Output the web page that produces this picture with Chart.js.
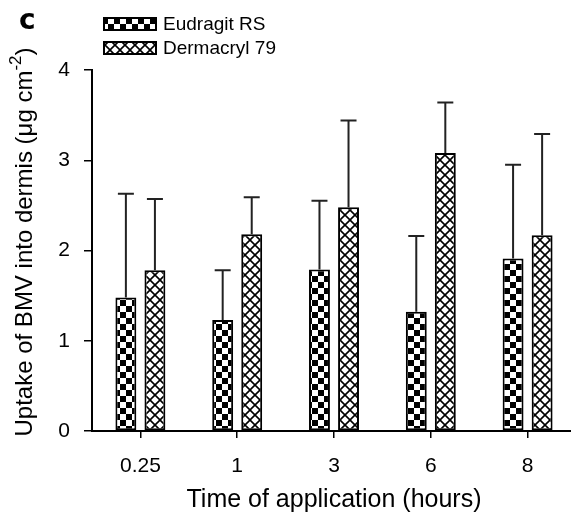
<!DOCTYPE html>
<html lang="en">
<head>
<meta charset="UTF-8">
<title>Uptake of BMV into dermis</title>
<style>
    html, body { margin: 0; padding: 0; background: #fff; overflow: hidden; }
    #wrap { width: 580px; height: 517px; }
    canvas { display: block; }
</style>
<script src="https://cdn.jsdelivr.net/npm/chart.js"></script>
</head>
<body>
<div id="wrap"><canvas id="uptakeChart" width="580" height="517"></canvas></div>

<script>
const times = ["0.25", "1", "3", "6", "8"];
const eudragitMean = [1.48, 1.23, 1.79, 1.32, 1.91];
const eudragitSd = [1.15, 0.55, 0.76, 0.84, 1.04];
const dermacrylMean = [1.78, 2.18, 2.48, 3.08, 2.17];
const dermacrylSd = [0.79, 0.41, 0.96, 0.56, 1.12];
const yTicks = [0, 1, 2, 3, 4];

const FONT = "'Liberation Sans', Arial, sans-serif";
const ctx = document.getElementById("uptakeChart").getContext("2d");

function checkerPattern() {
    const c = document.createElement("canvas");
    c.width = 12; c.height = 12;
    const g = c.getContext("2d");
    g.fillStyle = "#fff";
    g.fillRect(0, 0, 12, 12);
    g.fillStyle = "#000";
    g.fillRect(0, 0, 6, 6);
    g.fillRect(6, 6, 6, 6);
    return ctx.createPattern(c, "repeat");
}

function crossPattern() {
    const s = 10;
    const c = document.createElement("canvas");
    c.width = s; c.height = s;
    const g = c.getContext("2d");
    g.fillStyle = "#fff";
    g.fillRect(0, 0, s, s);
    g.strokeStyle = "#000";
    g.lineWidth = 1.6;
    g.beginPath();
    g.moveTo(-2, -2); g.lineTo(s + 2, s + 2);
    g.moveTo(s + 2, -2); g.lineTo(-2, s + 2);
    g.stroke();
    return ctx.createPattern(c, "repeat");
}

const errors = [eudragitSd, dermacrylSd];

const errorBars = {
    id: "errorBars",
    afterDatasetsDraw(chart) {
        const c = chart.ctx;
        const y = chart.scales.y;
        c.save();
        c.strokeStyle = "#222";
        c.lineWidth = 2;
        chart.data.datasets.forEach((ds, i) => {
            chart.getDatasetMeta(i).data.forEach((bar, j) => {
                const top = y.getPixelForValue(ds.data[j] + errors[i][j]);
                c.beginPath();
                c.moveTo(bar.x, bar.y);
                c.lineTo(bar.x, top);
                c.moveTo(bar.x - 8, top);
                c.lineTo(bar.x + 8, top);
                c.stroke();
            });
        });
        c.restore();
    }
};

const extras = {
    id: "extras",
    afterDraw(chart) {
        const c = chart.ctx;
        c.save();
        // panel letter
        c.fillStyle = "#000";
        c.font = "bold 28px 'DejaVu Sans', sans-serif";
        c.textBaseline = "middle";
        c.fillText("c", 19, 22);

        // legend
        c.font = "19px " + FONT;
        chart.data.datasets.forEach((ds, i) => {
            const yy = 18 + i * 24;
            c.fillStyle = ds.backgroundColor;
            c.fillRect(104, yy, 52, 12);
            c.strokeStyle = "#000";
            c.lineWidth = 2;
            c.strokeRect(104, yy, 52, 12);
            c.fillStyle = "#000";
            c.fillText(ds.label, 163, yy + 7);
        });

        // y title with superscript
        const cx = 25, cy = 242;
        c.translate(cx, cy);
        c.rotate(-Math.PI / 2);
        const big = "24px " + FONT, small = "17px " + FONT;
        const parts = [
            ["Uptake of BMV into dermis (\u03bcg cm", big, 0],
            ["-2", small, -9],
            [")", big, 0]
        ];
        let total = 0;
        parts.forEach(p => { c.font = p[1]; total += c.measureText(p[0]).width; });
        let x = -total / 2;
        c.textBaseline = "middle";
        parts.forEach(p => {
            c.font = p[1];
            c.fillText(p[0], x, p[2]);
            x += c.measureText(p[0]).width;
        });
        c.restore();
    }
};

new Chart(ctx, {
    type: "bar",
    data: {
        labels: times,
        datasets: [
            {
                label: "Eudragit RS",
                data: eudragitMean,
                backgroundColor: checkerPattern(),
                borderColor: "#000",
                borderWidth: 2,
                borderSkipped: false
            },
            {
                label: "Dermacryl 79",
                data: dermacrylMean,
                backgroundColor: crossPattern(),
                borderColor: "#000",
                borderWidth: 2,
                borderSkipped: false
            }
        ]
    },
    options: {
        responsive: false,
        animation: false,
        categoryPercentage: 0.6,
        barPercentage: 0.72,
        layout: { padding: { top: 70, right: 4, left: 0, bottom: 0 } },
        plugins: {
            legend: { display: false },
            tooltip: { enabled: false }
        },
        scales: {
            x: {
                offset: true,
                afterFit: s => { s.height = 86; },
                grid: {
                    offset: false,
                    drawOnChartArea: false,
                    drawTicks: true,
                    tickLength: 7,
                    color: "#000",
                    lineWidth: 1.5
                },
                border: { display: true, color: "#000", width: 2 },
                ticks: { color: "#000", font: { family: FONT, size: 21 }, padding: 16 },
                title: {
                    display: true,
                    text: "Time of application (hours)",
                    color: "#000",
                    font: { family: FONT, size: 25 },
                    padding: { top: 4, bottom: 2 }
                }
            },
            y: {
                min: 0,
                max: 4,
                afterFit: s => { s.width = 92; },
                afterBuildTicks: s => { s.ticks = yTicks.map(v => ({ value: v })); },
                grid: {
                    drawOnChartArea: false,
                    drawTicks: true,
                    tickLength: 8,
                    color: "#000",
                    lineWidth: 1.5
                },
                border: { display: true, color: "#000", width: 2 },
                ticks: { color: "#000", font: { family: FONT, size: 21 }, padding: 14 }
            }
        }
    },
    plugins: [errorBars, extras]
});
</script>
</body>
</html>
